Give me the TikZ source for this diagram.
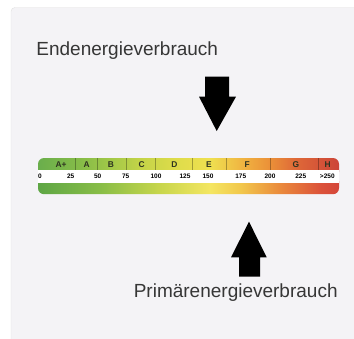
\documentclass[tikz,border=0pt]{standalone}
\usepackage{fontspec}
\setmainfont{Liberation Sans}
\definecolor{panelbg}{HTML}{F4F3F6}
\definecolor{txt}{HTML}{363636}
\definecolor{lbl}{HTML}{2E3320}
\pgfdeclarehorizontalshading{topbar}{100bp}{%
  color(0bp)=(rgb,255:red,106;green,174;blue,76); color(25bp)=(rgb,255:red,106;green,174;blue,76);
  color(32bp)=(rgb,255:red,134;green,188;blue,72);
  color(37bp)=(rgb,255:red,162;green,200;blue,72);
  color(42bp)=(rgb,255:red,196;green,212;blue,72);
  color(47.8bp)=(rgb,255:red,222;green,220;blue,74);
  color(53.6bp)=(rgb,255:red,239;green,224;blue,80);
  color(59.4bp)=(rgb,255:red,240;green,176;blue,64);
  color(63.5bp)=(rgb,255:red,235;green,144;blue,56);
  color(67.9bp)=(rgb,255:red,222;green,104;blue,56);
  color(75bp)=(rgb,255:red,204;green,68;blue,56);
  color(100bp)=(rgb,255:red,204;green,68;blue,56)}
\pgfdeclarehorizontalshading{botbar}{100bp}{%
  color(0bp)=(rgb,255:red,94;green,166;blue,69); color(25bp)=(rgb,255:red,94;green,166;blue,69);
  color(35.3bp)=(rgb,255:red,136;green,189;blue,71);
  color(45.3bp)=(rgb,255:red,200;green,214;blue,76);
  color(53.6bp)=(rgb,255:red,244;green,230;blue,98);
  color(58.6bp)=(rgb,255:red,242;green,200;blue,76);
  color(65.2bp)=(rgb,255:red,234;green,138;blue,60);
  color(71.8bp)=(rgb,255:red,220;green,83;blue,58);
  color(75bp)=(rgb,255:red,212;green,70;blue,58);
  color(100bp)=(rgb,255:red,212;green,70;blue,58)}
\tikzset{
  bigtext/.style={inner sep=0pt, text=txt, font=\fontsize{19}{19}\selectfont},
  classlbl/.style={inner sep=0pt, anchor=base, text=lbl, font=\fontsize{8.4}{8.4}\selectfont\bfseries},
  numlbl/.style={inner sep=0pt, anchor=base, text=black, font=\fontsize{6.5}{6.5}\selectfont\bfseries},
  sepline/.style={draw=black, draw opacity=0.3, line width=0.5pt},
  bigarrow/.style={fill=black},
}
\begin{document}
\begin{tikzpicture}[x=1pt,y=-1pt]
\useasboundingbox (0,0) rectangle (354,338);
\clip (0,0) rectangle (354,338);
\fill[white] (0,0) rectangle (354,338);
\draw[fill=panelbg, draw=black!12, rounded corners=4pt] (11,7.5) rectangle (368,350);

% texts
\node[bigtext, anchor=base west] (endt) at (36.2,55.7) {Endenergieverbrauch};
\node[bigtext, anchor=base west] (primt) at (133.6,297.3) {Primärenergieverbrauch};

% arrows
\fill[bigarrow] (205,76.7) -- (229,76.7) -- (229,96.7) -- (236,96.7) -- (216.7,131) -- (199,96.7) -- (205,96.7) -- cycle;
\fill[bigarrow] (239,276.7) -- (260,276.7) -- (260,257.3) -- (266.7,257.3) -- (249,221.7) -- (231,257.3) -- (239,257.3) -- cycle;

% bar
\shade[shading=topbar, rounded corners=6pt] (38,158) rectangle (339,178);
\shade[shading=botbar, rounded corners=6pt] (38,175) rectangle (339,194.2);
\fill[white] (38,170) rectangle (339,183.3);
\foreach \x in {75.7,97.7,126.7,155.7,192.3,226.7,270.7,318.3}
  \draw[sepline] (\x,158) -- (\x,170);

\node[classlbl] (lap) at (61,167.6) {A+};
\node[classlbl] (la) at (86.7,167.6) {A};
\node[classlbl] (lb) at (111,167.6) {B};
\node[classlbl] (lc) at (141.7,167.6) {C};
\node[classlbl] (ld) at (174.3,167.6) {D};
\node[classlbl] (le) at (209,167.6) {E};
\node[classlbl] (lf) at (247.3,167.6) {F};
\node[classlbl] (lg) at (296,167.6) {G};
\node[classlbl] (lh) at (327.7,167.6) {H};

\node[numlbl] (n0) at (40,178) {0};
\node[numlbl] (n25) at (70.7,178) {25};
\node[numlbl] (n50) at (97.7,178) {50};
\node[numlbl] (n75) at (125.7,178) {75};
\node[numlbl] (n100) at (156,178) {100};
\node[numlbl] (n125) at (185,178) {125};
\node[numlbl] (n150) at (208,178) {150};
\node[numlbl] (n175) at (240.7,178) {175};
\node[numlbl] (n200) at (270,178) {200};
\node[numlbl] (n225) at (300.7,178) {225};
\node[numlbl] (n250) at (327.3,178) {>250};
\end{tikzpicture}
\end{document}
